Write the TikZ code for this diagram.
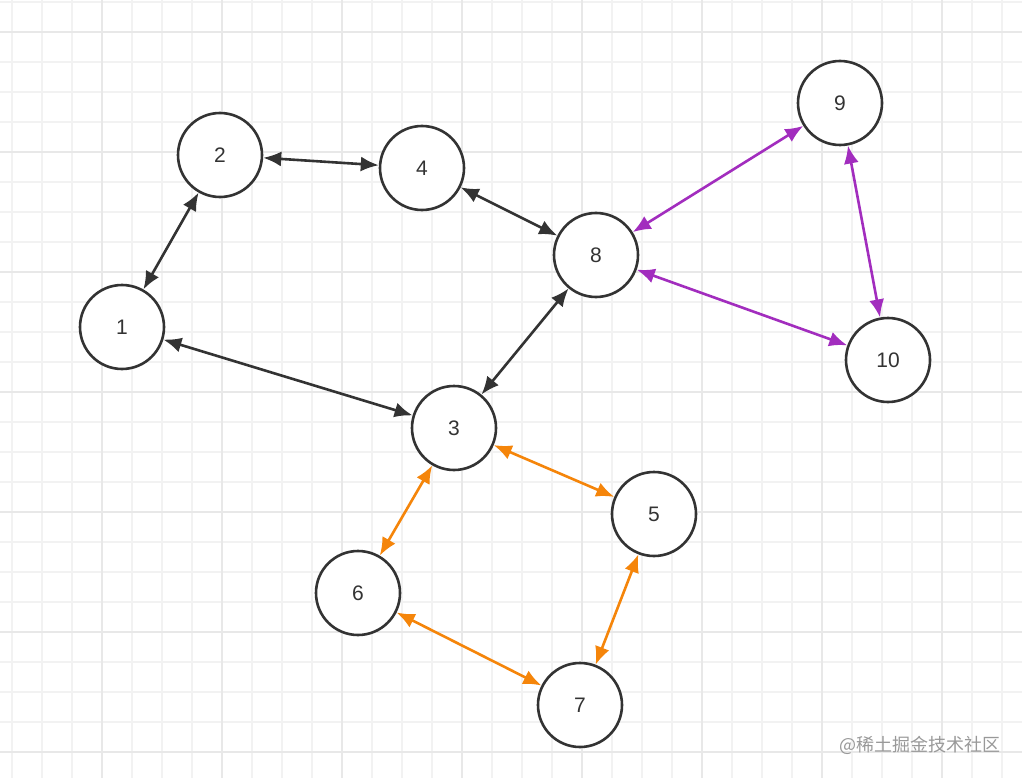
\documentclass[tikz,border=0pt]{standalone}
\usepackage{fontspec}
\setmainfont{Liberation Sans}
\newfontfamily\cjk{Noto Sans CJK SC}
\usetikzlibrary{arrows.meta}
\definecolor{edgedark}{HTML}{333333}
\definecolor{edgepurple}{HTML}{A22DBE}
\definecolor{edgeorange}{HTML}{F5850A}
\definecolor{gridminor}{HTML}{F2F2F2}
\definecolor{gridmajor}{HTML}{E8E8E8}

\tikzset{
    vertex/.style={circle, draw=edgedark, line width=2.6pt, fill=white,
                   minimum size=84pt, inner sep=0pt, font=\fontsize{21}{21}\selectfont,
                   text=edgedark},
    link/.style={line width=2.6pt, {Latex[length=18pt,width=15pt]}-{Latex[length=18pt,width=15pt]}},
}

\begin{document}
\begin{tikzpicture}[x=1pt, y=-1pt]
    \useasboundingbox (0,0) rectangle (1022,778);
    \fill[white] (0,0) rectangle (1022,778);

    % background grid
    \foreach \x in {12, 42, ..., 1022}
        \draw[gridminor, line width=1.2pt] (\x,0) -- (\x,778);
    \foreach \y in {2, 32, ..., 778}
        \draw[gridminor, line width=1.2pt] (0,\y) -- (1022,\y);
    \foreach \x in {102, 222, ..., 1022}
        \draw[gridmajor, line width=1.6pt] (\x,0) -- (\x,778);
    \foreach \y in {32, 152, ..., 778}
        \draw[gridmajor, line width=1.6pt] (0,\y) -- (1022,\y);

    % vertices
    \node[vertex] (v1)  at (122,327) {1};
    \node[vertex] (v2)  at (220,155) {2};
    \node[vertex] (v4)  at (422,168) {4};
    \node[vertex] (v8)  at (596,255) {8};
    \node[vertex] (v9)  at (840,103) {9};
    \node[vertex] (v10) at (888,360) {10};
    \node[vertex] (v3)  at (454,428) {3};
    \node[vertex] (v5)  at (654,514) {5};
    \node[vertex] (v6)  at (358,593) {6};
    \node[vertex] (v7)  at (580,705) {7};

    % connectors
    \draw[link, edgedark] (v1) -- (v2);
    \draw[link, edgedark] (v2) -- (v4);
    \draw[link, edgedark] (v4) -- (v8);
    \draw[link, edgedark] (v8) -- (v3);
    \draw[link, edgedark] (v1) -- (v3);

    \draw[link, edgepurple] (v8) -- (v9);
    \draw[link, edgepurple] (v8) -- (v10);
    \draw[link, edgepurple] (v9) -- (v10);

    \draw[link, edgeorange] (v3) -- (v5);
    \draw[link, edgeorange] (v3) -- (v6);
    \draw[link, edgeorange] (v6) -- (v7);
    \draw[link, edgeorange] (v5) -- (v7);

    \node[text=gray!80, font=\cjk\fontsize{18}{18}\selectfont] (mark) at (920,745) {@稀土掘金技术社区};
\end{tikzpicture}
\end{document}
